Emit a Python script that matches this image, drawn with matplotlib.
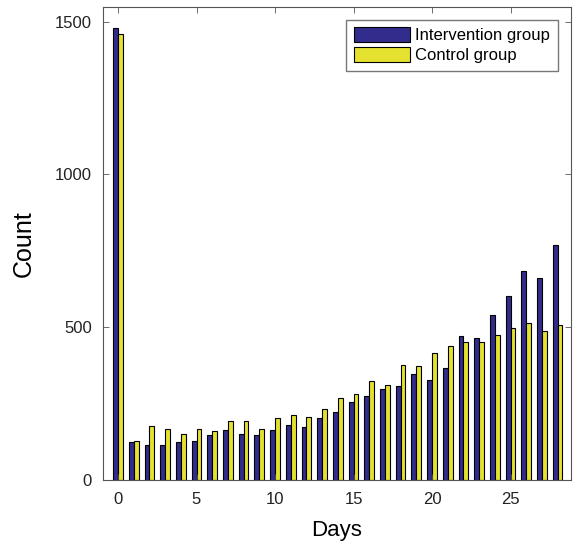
import numpy as np
import matplotlib.pyplot as plt

plt.rcParams['font.family'] = ['Liberation Sans', 'DejaVu Sans']

days = np.arange(29)
intervention = [1480, 122, 115, 115, 124, 126, 145, 163, 151, 147,
                162, 180, 172, 201, 222, 253, 274, 296, 307, 346,
                326, 367, 471, 465, 539, 602, 684, 662, 768]
control = [1460, 127, 176, 165, 151, 167, 159, 191, 192, 167,
           201, 211, 206, 231, 268, 280, 323, 310, 375, 372,
           414, 438, 452, 450, 474, 498, 512, 488, 507]
labels = ['Intervention group', 'Control group']

fig = plt.figure(figsize=(5.75, 5.47), dpi=100)
ax = fig.add_axes([0.179, 0.123, 0.814, 0.865])

w = 0.31
ax.bar(days - w / 2, intervention, width=w, color='#322c8c',
       edgecolor='black', linewidth=0.8, label=labels[0])
ax.bar(days + w / 2, control, width=w, color='#e4e22e',
       edgecolor='black', linewidth=0.8, label=labels[1])

ax.set_xlim(-0.96, 28.85)
ax.set_ylim(0, 1550)
ax.set_xticks([0, 5, 10, 15, 20, 25])
ax.set_yticks([0, 500, 1000, 1500])
ax.tick_params(direction='in', top=True, right=True, labelsize=12,
               length=4, width=0.6, colors='#555555', labelcolor='#222222')
ax.tick_params(axis='y', pad=8)
ax.tick_params(axis='x', pad=9)
for s in ax.spines.values():
    s.set_linewidth(0.8)
    s.set_color('#555555')

ax.set_xlabel('Days', fontsize=16, labelpad=9)
ax.set_ylabel('Count', fontsize=18, labelpad=14)

ax.legend(loc='upper right', fontsize=12, frameon=True, fancybox=False,
          edgecolor='#555555', handlelength=3.4, handleheight=0.95,
          borderaxespad=0.8, labelspacing=0.25, borderpad=0.45,
          handletextpad=0.3)

fig.savefig('out.png', dpi=100)
